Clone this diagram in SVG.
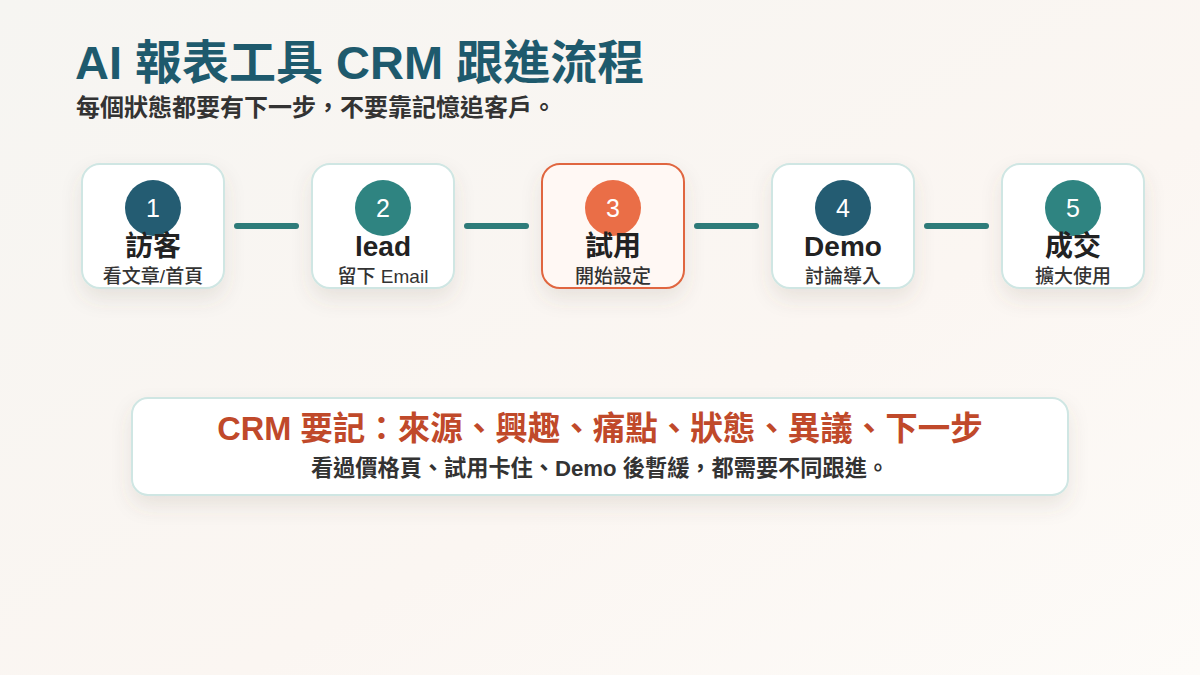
<svg xmlns="http://www.w3.org/2000/svg" width="1200" height="675" viewBox="0 0 1200 675">
  <defs>
    <linearGradient id="bg" x1="0" y1="0" x2="1" y2="1">
      <stop offset="0" stop-color="#f6f5f2"/>
      <stop offset="0.6" stop-color="#fbf6f2"/>
      <stop offset="1" stop-color="#fdfbf8"/>
    </linearGradient>
    <filter id="shadow" x="-30%" y="-30%" width="160%" height="180%">
      <feDropShadow dx="0" dy="10" stdDeviation="10" flood-color="#6b5a48" flood-opacity="0.12"/>
    </filter>
    <style>
      text { font-family: "Liberation Sans", "Noto Sans CJK TC", sans-serif; }
      .title { font-size: 47px; font-weight: 700; fill: #1e5a6d; }
      .subtitle { font-size: 24px; font-weight: 700; fill: #333333; }
      .card { fill: #ffffff; stroke: #cfe6e3; stroke-width: 2; }
      .card-active { fill: #fff8f4; stroke: #e0663f; stroke-width: 2; }
      .num { font-size: 25px; font-weight: 400; fill: #ffffff; text-anchor: middle; }
      .label { font-size: 28px; font-weight: 700; fill: #222222; text-anchor: middle; }
      .sub { font-size: 19px; font-weight: 500; fill: #333333; text-anchor: middle; }
      .conn { stroke: #2e7c7a; stroke-width: 6; stroke-linecap: round; }
      .note-title { font-size: 32.5px; font-weight: 700; fill: #c0492a; text-anchor: middle; }
      .note-sub { font-size: 22.2px; font-weight: 700; fill: #333333; text-anchor: middle; }
    </style>
  </defs>

  <rect x="0" y="0" width="1200" height="675" fill="url(#bg)"/>

  <g id="header">
    <text class="title" x="75" y="79">AI 報表工具 CRM 跟進流程</text>
    <text class="subtitle" x="76" y="116">每個狀態都要有下一步，不要靠記憶追客戶。</text>
  </g>

  <g id="connectors">
    <line class="conn" x1="237" y1="226" x2="296" y2="226"/>
    <line class="conn" x1="467" y1="226" x2="526" y2="226"/>
    <line class="conn" x1="697" y1="226" x2="756" y2="226"/>
    <line class="conn" x1="927" y1="226" x2="986" y2="226"/>
  </g>

  <g id="node1">
    <rect class="card" x="82" y="164" width="142" height="124" rx="18" filter="url(#shadow)"/>
    <circle cx="153" cy="208" r="28" fill="#245c72"/>
    <text class="num" x="153" y="217">1</text>
    <text class="label" x="153" y="256">訪客</text>
    <text class="sub" x="153" y="283">看文章/首頁</text>
  </g>

  <g id="node2">
    <rect class="card" x="312" y="164" width="142" height="124" rx="18" filter="url(#shadow)"/>
    <circle cx="383" cy="208" r="28" fill="#2f8481"/>
    <text class="num" x="383" y="217">2</text>
    <text class="label" x="383" y="256">lead</text>
    <text class="sub" x="383" y="283">留下 Email</text>
  </g>

  <g id="node3">
    <rect class="card-active" x="542" y="164" width="142" height="124" rx="18" filter="url(#shadow)"/>
    <circle cx="613" cy="208" r="28" fill="#ea6e47"/>
    <text class="num" x="613" y="217">3</text>
    <text class="label" x="613" y="256">試用</text>
    <text class="sub" x="613" y="283">開始設定</text>
  </g>

  <g id="node4">
    <rect class="card" x="772" y="164" width="142" height="124" rx="18" filter="url(#shadow)"/>
    <circle cx="843" cy="208" r="28" fill="#245c72"/>
    <text class="num" x="843" y="217">4</text>
    <text class="label" x="843" y="256">Demo</text>
    <text class="sub" x="843" y="283">討論導入</text>
  </g>

  <g id="node5">
    <rect class="card" x="1002" y="164" width="142" height="124" rx="18" filter="url(#shadow)"/>
    <circle cx="1073" cy="208" r="28" fill="#2f8481"/>
    <text class="num" x="1073" y="217">5</text>
    <text class="label" x="1073" y="256">成交</text>
    <text class="sub" x="1073" y="283">擴大使用</text>
  </g>

  <g id="note">
    <rect class="card" x="132" y="398" width="936" height="97" rx="16" filter="url(#shadow)"/>
    <text class="note-title" x="600" y="440">CRM 要記：來源、興趣、痛點、狀態、異議、下一步</text>
    <text class="note-sub" x="600" y="476">看過價格頁、試用卡住、Demo 後暫緩，都需要不同跟進。</text>
  </g>
</svg>
